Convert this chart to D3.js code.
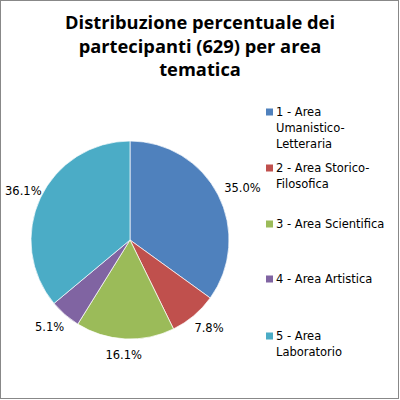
<!DOCTYPE html>
<html>
<head>
<meta charset="utf-8">
<script src="https://cdn.jsdelivr.net/npm/d3@7"></script>
<style>
  body { margin: 0; background: #fff; }
  svg { display: block; }
</style>
</head>
<body>
<div class="chart"></div>
<script>
var categories = ["1 - Area Umanistico-Letteraria", "2 - Area Storico-Filosofica", "3 - Area Scientifica", "4 - Area Artistica", "5 - Area Laboratorio"];
var percentages = [35.0, 7.8, 16.1, 5.1, 36.1];
var legendLines = [["1 - Area", "Umanistico-", "Letteraria"], ["2 - Area Storico-", "Filosofica"], ["3 - Area Scientifica"], ["4 - Area Artistica"], ["5 - Area", "Laboratorio"]];
var titleLines = ["Distribuzione percentuale dei", "partecipanti (629) per area", "tematica"];
var colors = ["#4f81bd", "#c0504d", "#9bbb59", "#8064a2", "#4bacc6"];

var width = 400, height = 400;
var svg = d3.select(".chart").append("svg")
    .attr("width", width)
    .attr("height", height);

// chart frame
svg.append("rect")
    .attr("x", 0.5).attr("y", 0.5)
    .attr("width", 398).attr("height", 398)
    .attr("fill", "#fff")
    .attr("stroke", "#888")
    .attr("stroke-width", 1);

// title
svg.append("text")
    .attr("text-anchor", "middle")
    .attr("font-family", "'Open Sans', sans-serif")
    .attr("font-weight", "bold")
    .attr("font-size", "18.3px")
    .attr("fill", "#000")
    .selectAll("tspan")
    .data(titleLines)
    .join("tspan")
    .attr("x", 200)
    .attr("y", (d, i) => 29 + i * 23.5)
    .text(d => d);

var cx = 130, cy = 240, radius = 99;

var pie = d3.pie().sort(null).value(d => d);
var arcs = pie(percentages);

var arc = d3.arc().innerRadius(0).outerRadius(radius);
var gap = 9;

var g = svg.append("g")
    .attr("transform", "translate(" + cx + "," + cy + ")");

g.selectAll("path")
    .data(arcs)
    .join("path")
    .attr("d", arc)
    .attr("fill", (d, i) => colors[i])
    .attr("stroke", "#fff")
    .attr("stroke-width", 0.7);

// data labels outside the pie, box pushed away from the edge
g.selectAll("text")
    .data(arcs)
    .join("text")
    .attr("text-anchor", "middle")
    .attr("dy", "0.35em")
    .attr("font-family", "'DejaVu Sans', sans-serif")
    .attr("font-size", "11.5px")
    .attr("fill", "#000")
    .text(d => d.data.toFixed(1) + "%")
    .attr("transform", function(d) {
        var a = (d.startAngle + d.endAngle) / 2;
        var bb = this.getBBox();
        var r = radius + gap;
        var x = Math.sin(a) * r + Math.sin(a) * bb.width / 2;
        var y = -Math.cos(a) * r - Math.cos(a) * bb.height / 2;
        // keep the label inside the chart frame
        x = Math.max(x, 5 + bb.width / 2 - cx);
        return "translate(" + x + "," + y + ")";
    });

// legend
var legendY = [112, 168, 224, 279, 336];
var legend = svg.append("g")
    .selectAll("g")
    .data(categories)
    .join("g")
    .attr("transform", (d, i) => "translate(266," + legendY[i] + ")");

legend.append("rect")
    .attr("x", 0).attr("y", -3.5)
    .attr("width", 7).attr("height", 7)
    .attr("fill", (d, i) => colors[i]);

legend.append("text")
    .attr("font-family", "'DejaVu Sans', sans-serif")
    .attr("font-size", "11.5px")
    .attr("fill", "#000")
    .selectAll("tspan")
    .data((d, i) => legendLines[i])
    .join("tspan")
    .attr("x", 10)
    .attr("y", (d, j) => j * 16)
    .attr("dy", "0.35em")
    .text(d => d);
</script>
</body>
</html>
